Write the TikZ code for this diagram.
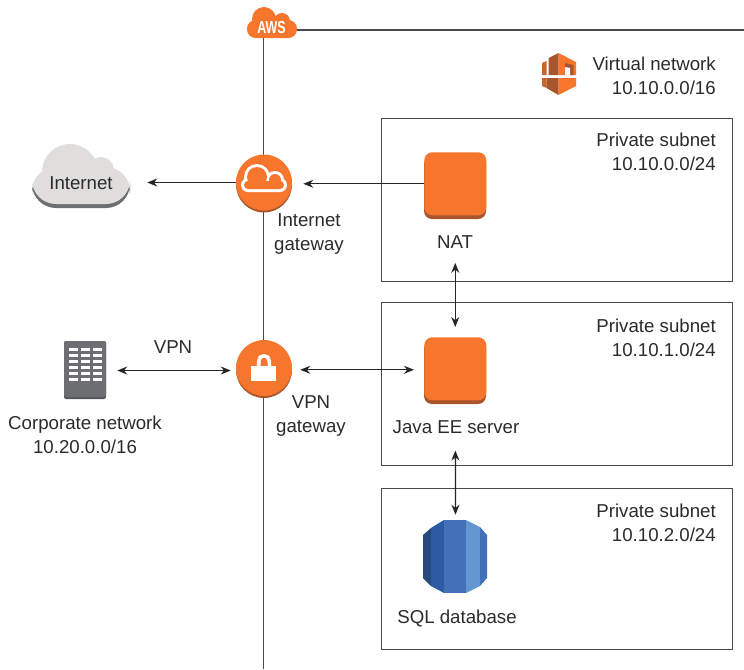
\documentclass[tikz,border=0pt]{standalone}
\usepackage{fontspec}
\setmainfont{Liberation Sans}
\usetikzlibrary{arrows.meta}
\definecolor{aorange}{HTML}{F5762C}
\definecolor{adark}{HTML}{A9552B}
\definecolor{amid}{HTML}{C9652B}
\definecolor{atxt}{HTML}{2B2B2B}
\definecolor{aline}{HTML}{4A4A4A}
\definecolor{cloudg}{HTML}{DFDEDD}
\definecolor{cloudd}{HTML}{6D6E71}
\definecolor{dba}{HTML}{274A7C}
\definecolor{dbb}{HTML}{2D5BA3}
\definecolor{dbc}{HTML}{4370B7}
\definecolor{dbd}{HTML}{6496CF}
\tikzset{
  lbl/.style={font=\fontsize{14}{18}\selectfont,text=atxt,align=center,inner sep=0pt},
  lblr/.style={font=\fontsize{14}{18}\selectfont,text=atxt,align=right,inner sep=0pt,anchor=north east},
  subnet/.style={draw=aline,line width=1.1pt,inner sep=0pt,anchor=north west},
  conn/.style={line width=0.95pt,draw=black!85,>={Stealth[length=7.5pt,width=6pt]}},
  bus/.style={line width=1.4pt,draw=aline},
  gw/.style={circle,fill=aorange,minimum size=42pt,inner sep=0pt},
  inst/.style={rounded corners=6pt,fill=aorange,minimum width=46.5pt,minimum height=47.25pt,inner sep=0pt,anchor=north west},
}
\begin{document}
\begin{tikzpicture}[x=0.75pt,y=-0.75pt]
\useasboundingbox (0,0) rectangle (744,669);
% subnets
\node[subnet,minimum width=263.25pt,minimum height=122.25pt] (s1) at (381,118) {};
\node[subnet,minimum width=263.25pt,minimum height=122.25pt] (s2) at (381,302) {};
\node[subnet,minimum width=263.25pt,minimum height=120.75pt] (s3) at (381,488) {};
% bus
\coordinate (busbot) at (263.5,669);
\coordinate (busright) at (744,30);
\node[inner sep=0pt,minimum size=1pt] (aws) at (263.5,30) {};
\draw[bus] (aws.center) -- (busright);
\draw[bus] (aws.center) -- (busbot);
% AWS cloud
\fill[aorange] (264,19) circle (12) (282,21) circle (8);
\fill[aorange,rounded corners=6.5pt] (247,20) rectangle (297,38);
\node[font=\fontsize{13}{15}\selectfont\bfseries,text=white,inner sep=0pt] (awstxt) at (271.5,27.5) {\scalebox{.72}[1]{AWS}};
% VPC icon
\fill[amid] (542,63) -- (546.5,61) -- (546.5,75) -- (542,75) -- cycle;
\fill[adark] (558.5,53) -- (548.5,58) -- (548.5,75) -- (558.5,75) -- cycle;
\fill[aorange] (558.5,53) -- (576,62) -- (576,75) -- (558.5,75) -- cycle;
\fill[adark] (565,63) -- (573.5,65) -- (573.5,75) -- (570,75) -- (570,68) -- (565,67) -- cycle;
\fill[white] (565,67) -- (570,68) -- (570,75) -- (565,75) -- cycle;
\fill[amid] (542,78) -- (546.5,78) -- (546.5,88) -- (542,86) -- cycle;
\fill[adark] (546.5,78) -- (558.5,78) -- (558.5,95) -- (546.5,88) -- cycle;
\fill[aorange] (558.5,78) -- (576,78) -- (576,86) -- (558.5,95) -- cycle;
% internet cloud
\fill[cloudd,rounded corners=18pt] (32,170) rectangle (130,208);
\fill[cloudg] (70,172) circle (28) (101,170) circle (13);
\fill[cloudg,rounded corners=18pt] (32,167) rectangle (130,204);
\node[lbl,minimum width=73.5pt] (inet) at (81,183) {Internet};
% gateways
\fill[adark] (264,184.5) circle (28);
\node[gw] (igw) at (264,182.5) {};
\fill[adark] (264,370) circle (28);
\node[gw] (vgw) at (264,368) {};
% igw cloud
\fill[white] (257,177) circle (13) (275,180) circle (9);
\fill[white,rounded corners=5.25pt] (241,178) rectangle (287,192);
\fill[aorange] (257,177) circle (10) (275,180) circle (6);
\fill[aorange,rounded corners=3pt] (244,181) rectangle (284,189);
% lock
\draw[white,line width=2.7pt] (258.7,367) -- (258.7,361) arc (180:360:5.3) -- (269.3,367);
\fill[white] (251,366) rectangle (276,381);
% instances
\fill[adark,rounded corners=6pt] (424,156) rectangle (486,219);
\node[inst] (nat) at (424,152) {};
\fill[adark,rounded corners=6pt] (424,341) rectangle (486,404);
\node[inst] (java) at (424,337) {};
% server
\fill[cloudd!80!black,rounded corners=1.5pt] (64,341) rectangle (106,399);
\fill[cloudd,rounded corners=1.5pt] (64,341) rectangle (106,397);
\foreach \y in {348,354,360,366,372,378}{\foreach \x in {69,81,93}{\fill[white] (\x,\y) rectangle +(9,3.2);}}
\node[inner sep=0pt,minimum width=31.5pt,minimum height=43.5pt] (srv) at (85,370.5) {};
% database
\fill[dba] (423,535) -- (431,528) -- (431,586) -- (423,578) -- cycle;
\fill[dbb] (431,528) -- (444,520) -- (444,593) -- (431,586) -- cycle;
\fill[dbc] (444,520) rectangle (466,593);
\fill[dbd] (466,520) -- (480,527) -- (480,586) -- (466,593) -- cycle;
\fill[dbc] (480,527) -- (487,535) -- (487,578) -- (480,586) -- cycle;
\node[inner sep=0pt,minimum width=48pt,minimum height=54.75pt] (db) at (455.5,556.5) {};
% connectors
\draw[conn,->,shorten >=12.75pt] (igw.west) -- (inet.east |- igw.west);
\draw[conn,->,shorten >=8.25pt] (nat.west) -- (igw.east |- nat.west);
\draw[conn,<->,shorten <=35.5pt,shorten >=7.5pt] (nat.south) -- (java.north);
\draw[conn,<->,shorten <=7.5pt,shorten >=6pt] ([yshift=-0.75pt]java.west) -- ([yshift=-0.75pt]vgw.east |- java.west);
\draw[conn,<->,shorten <=8.25pt,shorten >=3.75pt] (srv.east) -- (vgw.west |- srv.east);
\draw[conn,<->,shorten <=37.5pt,shorten >=3.75pt] (java.south) -- (db.north);
% labels
\node[lblr] (vn) at (716,57) {Virtual network\\10.10.0.0/16};
\node[lblr] (t1) at (716,133) {Private subnet\\10.10.0.0/24};
\node[lblr] (t2) at (716,319) {Private subnet\\10.10.1.0/24};
\node[lblr] (t3) at (716,504) {Private subnet\\10.10.2.0/24};
\node[lbl] (tnat) at (455,242) {NAT};
\node[lbl] (tjava) at (456,427) {Java EE server};
\node[lbl] (tsql) at (457,618) {SQL database};
\node[lbl] (tigw) at (309,234) {Internet\\gateway};
\node[lbl] (tvgw) at (311,416) {VPN\\gateway};
\node[lbl] (tcorp) at (85,435) {Corporate network\\10.20.0.0/16};
\node[lbl] (tvpn) at (173,347) {VPN};
\end{tikzpicture}
\end{document}
